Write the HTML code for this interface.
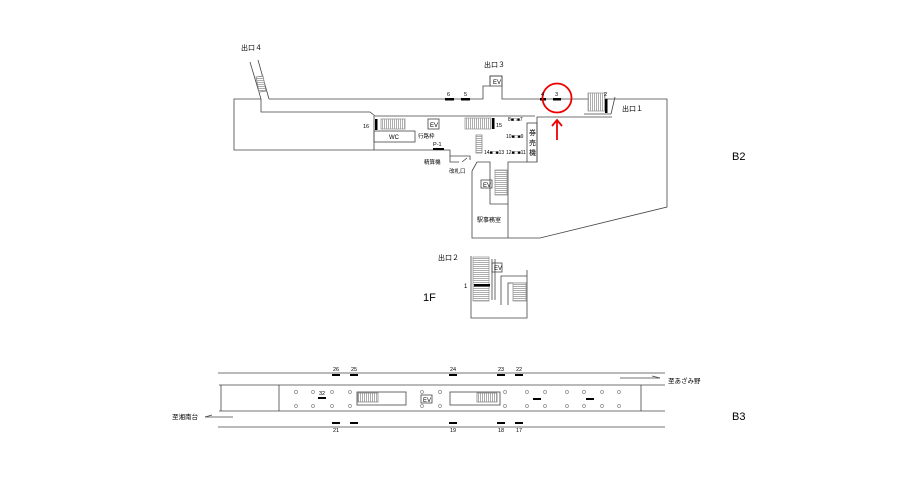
<!DOCTYPE html>
<html><head><meta charset="utf-8"><style>
html,body{margin:0;padding:0;background:#fff;}
svg{display:block;}
text{font-family:"Liberation Sans","Noto Sans CJK JP",sans-serif;fill:#000;}
</style></head><body>
<svg width="919" height="491" viewBox="0 0 919 491" xmlns="http://www.w3.org/2000/svg">
<defs>
<pattern id="sv" width="2" height="2" patternUnits="userSpaceOnUse"><rect width="2" height="2" fill="#fff"/><line x1="0.5" y1="0" x2="0.5" y2="2" stroke="#777" stroke-width="0.6"/></pattern>
<pattern id="sh" width="2" height="2" patternUnits="userSpaceOnUse"><rect width="2" height="2" fill="#fff"/><line x1="0" y1="0.5" x2="2" y2="0.5" stroke="#777" stroke-width="0.6"/></pattern>
</defs>
<g fill="none" stroke="#444" stroke-width="0.8">
<line x1="250" y1="62" x2="261" y2="99"/><line x1="258" y1="60" x2="269" y2="99"/>
<polygon points="256,77 263,76 266,91 259,92" fill="url(#sh)" stroke="#888"/>
<polyline points="261,99 234,99 234,150 374,150"/>
<polyline points="269,99 483,99 483,86 490,86 490,76 502,76 502,99 667,99 667,207 540,238 472,238 472,171"/>
<rect x="490" y="76" width="12" height="10"/>
<polyline points="261,99 261,112 370,112 375,116 535,116"/>
<line x1="374" y1="116" x2="374" y2="150"/>
<rect x="374" y="131" width="41" height="11"/>
<polyline points="537,162 537,117 612,117"/>
<rect x="527" y="123" width="10" height="39"/>
<polyline points="508,238 508,162 527,162"/>
<rect x="588" y="93" width="17" height="18" fill="url(#sv)" stroke="#999"/>
<line x1="615" y1="97" x2="611" y2="114"/>
<line x1="584" y1="114" x2="611" y2="114"/>
<rect x="381" y="119" width="24" height="10" fill="url(#sv)" stroke="#999"/>
<rect x="428" y="119" width="11" height="10"/>
<rect x="465" y="118" width="26" height="11" fill="url(#sv)" stroke="#999"/>
<rect x="476" y="135" width="6" height="18" fill="url(#sh)" stroke="#888"/>
<polyline points="374,150 450,150 450,156 470,156 470,160"/>
<polyline points="450,156 450,162 459,162"/>
<line x1="462" y1="162" x2="467" y2="158"/>
<line x1="472" y1="171" x2="477" y2="162"/>
<polyline points="477,162 490,162 490,204 508,204"/>
<rect x="481" y="180" width="11" height="8"/>
<rect x="495" y="170" width="12" height="25" fill="url(#sh)" stroke="#999"/>
<polyline points="471,256 471,318 527,318 527,270"/>
<rect x="473" y="257" width="16" height="44" fill="url(#sh)" stroke="#999"/>
<line x1="492" y1="259" x2="492" y2="300"/><line x1="495" y1="259" x2="495" y2="300"/>
<rect x="492" y="263" width="10" height="9"/>
<polyline points="501,305 501,276 527,276"/>
<polyline points="508,305 508,283 527,283"/>
<rect x="513" y="283" width="13" height="18" fill="url(#sh)" stroke="#999"/>
<line x1="218" y1="373" x2="665" y2="373"/>
<line x1="218" y1="427" x2="665" y2="427"/>
<line x1="219" y1="385" x2="665" y2="385"/>
<line x1="219" y1="411" x2="665" y2="411"/>
<line x1="221" y1="385" x2="221" y2="411"/>
<line x1="279" y1="385" x2="279" y2="411"/>
<line x1="641" y1="385" x2="641" y2="411"/>
<rect x="357" y="392" width="49" height="13"/>
<rect x="358" y="393" width="20" height="9" fill="url(#sv)" stroke="#888"/>
<rect x="450" y="392" width="50" height="13"/>
<rect x="477" y="393" width="20" height="9" fill="url(#sv)" stroke="#888"/>
<rect x="421" y="395" width="11" height="8"/>
<line x1="620" y1="378" x2="660" y2="378"/><line x1="652" y1="376" x2="660" y2="378"/>
<line x1="205" y1="417" x2="233" y2="417"/><line x1="205" y1="417" x2="212" y2="415"/>
</g>
<g fill="none" stroke="#888" stroke-width="0.7">
<circle cx="296" cy="392" r="1.5"/><circle cx="313" cy="392" r="1.5"/><circle cx="332" cy="392" r="1.5"/><circle cx="350" cy="392" r="1.5"/>
<circle cx="296" cy="406" r="1.5"/><circle cx="313" cy="406" r="1.5"/><circle cx="332" cy="406" r="1.5"/><circle cx="350" cy="406" r="1.5"/>
<circle cx="422" cy="392" r="1.5"/><circle cx="440" cy="392" r="1.5"/><circle cx="422" cy="406" r="1.5"/><circle cx="440" cy="406" r="1.5"/>
<circle cx="505" cy="392" r="1.5"/><circle cx="527" cy="392" r="1.5"/><circle cx="545" cy="392" r="1.5"/><circle cx="567" cy="392" r="1.5"/><circle cx="584" cy="392" r="1.5"/><circle cx="602" cy="392" r="1.5"/><circle cx="619" cy="392" r="1.5"/>
<circle cx="505" cy="406" r="1.5"/><circle cx="527" cy="406" r="1.5"/><circle cx="545" cy="406" r="1.5"/><circle cx="567" cy="406" r="1.5"/><circle cx="584" cy="406" r="1.5"/><circle cx="602" cy="406" r="1.5"/><circle cx="619" cy="406" r="1.5"/>
</g>
<g fill="#000">
<rect x="445" y="98" width="9" height="2.5"/><rect x="461" y="98" width="9" height="2.5"/>
<rect x="540" y="98" width="6" height="2.5"/><rect x="553" y="98" width="8" height="2.5"/>
<rect x="605" y="99" width="2.5" height="14"/>
<rect x="375" y="119" width="2.5" height="11"/><rect x="492" y="118" width="2.5" height="11"/>
<rect x="433" y="148" width="11" height="2"/>
<rect x="474" y="284" width="16" height="2.5"/>
<rect x="332" y="374" width="8" height="2"/><rect x="350" y="374" width="8" height="2"/><rect x="449" y="374" width="8" height="2"/><rect x="497" y="374" width="8" height="2"/><rect x="515" y="374" width="8" height="2"/>
<rect x="332" y="422" width="8" height="2"/><rect x="350" y="422" width="8" height="2"/><rect x="449" y="422" width="8" height="2"/><rect x="497" y="422" width="8" height="2"/><rect x="515" y="422" width="8" height="2"/>
<rect x="318" y="397" width="8" height="2"/><rect x="533" y="398" width="8" height="2"/><rect x="586" y="398" width="8" height="2"/>
</g>
<circle cx="557" cy="98" r="14.5" fill="none" stroke="#e00" stroke-width="1.8"/>
<line x1="557" y1="140" x2="557" y2="121" stroke="#e00" stroke-width="1.8"/>
<polyline points="552,126 557,120 562,126" fill="none" stroke="#e00" stroke-width="1.8"/>
<g font-size="7">
<text x="241" y="50">出口４</text><text x="484" y="67">出口３</text><text x="622" y="111">出口１</text><text x="438" y="260">出口２</text>
<text x="493" y="84" font-size="6">EV</text><text x="430" y="127" font-size="6">EV</text><text x="483" y="187" font-size="6">EV</text><text x="494" y="270" font-size="6">EV</text><text x="423" y="402" font-size="6">EV</text>
<text x="447" y="96" font-size="5.5">6</text><text x="464" y="96" font-size="5.5">5</text><text x="541" y="96" font-size="5.5">4</text><text x="555" y="96" font-size="5.5">3</text><text x="604" y="96" font-size="5.5">2</text>
<text x="363" y="128" font-size="5.5">16</text><text x="496" y="127" font-size="5.5">15</text>
<text x="389" y="139" font-size="6">WC</text><text x="418" y="138" font-size="5.5">行路枠</text>
<text x="433" y="146" font-size="5.5">P-1</text>
<text x="424" y="164" font-size="5.5">精算機</text><text x="449" y="173" font-size="5.5">改札口</text>
<text x="477" y="222" font-size="6">駅事務室</text>
<text x="508" y="121" font-size="5">8■□■7</text><text x="506" y="138" font-size="5">10■□■9</text>
<text x="484" y="154" font-size="5">14■□■13</text><text x="506" y="154" font-size="5">12■□■11</text>
<text x="529" y="135" font-size="7">券</text><text x="529" y="145" font-size="7">売</text><text x="529" y="155" font-size="7">機</text>
<text x="464" y="288" font-size="6">1</text>
<text x="423" y="301" font-size="11">1F</text>
<text x="732" y="160" font-size="11">B2</text><text x="732" y="420" font-size="11">B3</text>
<text x="333" y="371" font-size="5.5">26</text><text x="351" y="371" font-size="5.5">25</text><text x="450" y="371" font-size="5.5">24</text><text x="498" y="371" font-size="5.5">23</text><text x="516" y="371" font-size="5.5">22</text>
<text x="333" y="432" font-size="5.5">21</text><text x="450" y="432" font-size="5.5">19</text><text x="498" y="432" font-size="5.5">18</text><text x="516" y="432" font-size="5.5">17</text>
<text x="319" y="395" font-size="5.5">32</text>
<text x="668" y="383" font-size="6.5">至あざみ野</text><text x="172" y="419" font-size="6.5">至湘南台</text>
</g>
</svg>
</body></html>
